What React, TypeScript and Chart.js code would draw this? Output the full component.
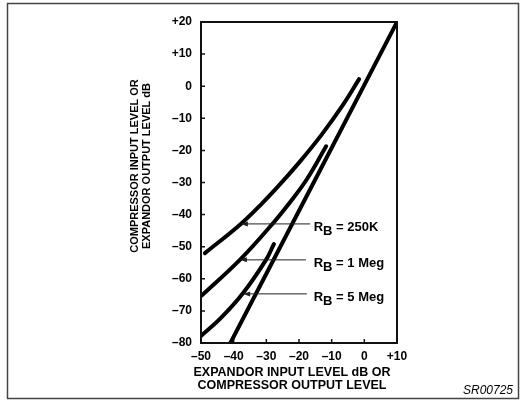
import { useEffect, useRef } from 'react';
import { Chart, registerables } from 'chart.js';

Chart.register(...registerables);

// ---- Data (dB) ----
const unityX = [-41, 10];
const unityY = [-80, 20];

const rb250kX = [-48.8, -37.8, -31.3, -25.5, -19.4, -13.0, -6.6, -1.6];
const rb250kY = [-52.0, -42.9, -36.5, -30.2, -23.1, -15.0, -5.9, 2.2];

const rb1MegX = [-50, -38.1, -28.9, -22.8, -17.6, -11.7];
const rb1MegY = [-65.4, -54.1, -43.8, -36.2, -29.0, -18.7];

const rb5MegX = [-50, -44.2, -37.1, -30.1, -27.7];
const rb5MegY = [-77.8, -72.5, -64.4, -54.1, -49.2];

// Callouts: label text, arrow tip (on curve) and tail, in data units
const calloutValues = ['250K', '1 Meg', '5 Meg'];
const calloutY = [-42.9, -54.1, -64.7];
const calloutTipX = [-37.8, -38.1, -37.1];
const calloutTailX = [-16.6, -17.9, -17.6];
const calloutLabelX = [-15.5, -15.5, -15.5];

const xMin = -50, xMax = 10, xStep = 10;
const yMin = -80, yMax = 20, yStep = 10;

const xTitleLines = ['EXPANDOR INPUT LEVEL dB OR', 'COMPRESSOR OUTPUT LEVEL'];
const yTitleLines = ['COMPRESSOR INPUT LEVEL OR', 'EXPANDOR OUTPUT LEVEL dB'];
const figureCode = 'SR00725';

const fmt = (v: number) => (v > 0 ? '+' + v : v < 0 ? '\u2013' + Math.abs(v) : '0');
const pts = (xs: number[], ys: number[]) => xs.map((x, i) => ({ x, y: ys[i] }));

const FONT = '"Liberation Sans", Arial, Helvetica, sans-serif';

const figurePlugin = {
  id: 'figure',
  afterDraw(chart: any) {
    const { ctx, chartArea: a, scales } = chart;
    const xs = scales.x;
    const ys = scales.y;
    ctx.save();
    ctx.strokeStyle = '#111';
    ctx.fillStyle = '#111';

    // plot frame
    ctx.lineWidth = 2;
    ctx.strokeRect(a.left, a.top, a.right - a.left, a.bottom - a.top);

    // inward tick marks
    ctx.lineWidth = 1.5;
    ctx.beginPath();
    xs.ticks.forEach((_t: any, i: number) => {
      const px = xs.getPixelForTick(i);
      ctx.moveTo(px, a.bottom);
      ctx.lineTo(px, a.bottom - 4);
    });
    ys.ticks.forEach((_t: any, i: number) => {
      const py = ys.getPixelForTick(i);
      ctx.moveTo(a.left, py);
      ctx.lineTo(a.left + 4, py);
    });
    ctx.stroke();

    // callout arrows and labels
    calloutValues.forEach((val, i) => {
      const py = ys.getPixelForValue(calloutY[i]);
      const tip = xs.getPixelForValue(calloutTipX[i]);
      const tail = xs.getPixelForValue(calloutTailX[i]);
      ctx.strokeStyle = '#222';
      ctx.fillStyle = '#222';
      ctx.lineWidth = 1;
      ctx.beginPath();
      ctx.moveTo(tip + 4, py);
      ctx.lineTo(tail, py);
      ctx.stroke();
      ctx.beginPath();
      ctx.moveTo(tip, py);
      ctx.lineTo(tip + 7, py - 2.5);
      ctx.lineTo(tip + 7, py + 2.5);
      ctx.closePath();
      ctx.fill();

      const lx = xs.getPixelForValue(calloutLabelX[i]);
      const ly = py + 4;
      ctx.fillStyle = '#000';
      ctx.font = `bold 13px ${FONT}`;
      ctx.textBaseline = 'middle';
      ctx.textAlign = 'left';
      ctx.fillText('R', lx, ly);
      const wR = ctx.measureText('R').width;
      ctx.fillText('B', lx + wR, ly + 4);
      const wB = ctx.measureText('B').width;
      ctx.fillText(' = ' + val, lx + wR + wB, ly);
    });

    // axis titles
    ctx.fillStyle = '#000';
    ctx.textAlign = 'center';
    ctx.textBaseline = 'middle';
    ctx.font = `bold 12.5px ${FONT}`;
    xTitleLines.forEach((t, i) => {
      ctx.fillText(t, a.left + 91, a.bottom + 30 + i * 12.5);
    });
    ctx.font = `bold 11px ${FONT}`;
    ctx.save();
    ctx.translate(a.left - 66, a.top + 144);
    ctx.rotate(-Math.PI / 2);
    yTitleLines.forEach((t, i) => {
      ctx.fillText(t, 0, i * 12);
    });
    ctx.restore();

    // figure code
    ctx.font = `italic 12px ${FONT}`;
    ctx.textAlign = 'right';
    ctx.fillText(figureCode, 513, 391);

    // outer frame
    ctx.strokeStyle = '#444';
    ctx.lineWidth = 1.5;
    ctx.strokeRect(7.5, 3.5, 511, 395);
    ctx.restore();
  },
};

export default function App() {
  const ref = useRef<HTMLCanvasElement | null>(null);

  useEffect(() => {
    if (!ref.current) return;
    const lineStyle = {
      borderColor: '#000',
      borderWidth: 4,
      pointRadius: 0,
      fill: false,
      tension: 0.4,
      borderCapStyle: 'round' as const,
      borderJoinStyle: 'round' as const,
    };
    const chart = new Chart(ref.current, {
      type: 'line',
      data: {
        datasets: [
          { label: 'Unity', data: pts(unityX, unityY), ...lineStyle },
          { label: 'RB = 250K', data: pts(rb250kX, rb250kY), ...lineStyle },
          { label: 'RB = 1 Meg', data: pts(rb1MegX, rb1MegY), ...lineStyle },
          { label: 'RB = 5 Meg', data: pts(rb5MegX, rb5MegY), ...lineStyle },
        ],
      },
      options: {
        responsive: false,
        animation: false,
        devicePixelRatio: 1,
        layout: { padding: { left: 0, top: 22, right: 125, bottom: 0 } },
        plugins: { legend: { display: false }, tooltip: { enabled: false } },
        scales: {
          x: {
            type: 'linear',
            min: xMin,
            max: xMax,
            grid: { display: false, drawTicks: false },
            border: { display: false },
            ticks: {
              stepSize: xStep,
              padding: 6,
              color: '#000',
              font: { family: FONT, size: 12, weight: 'bold' },
              callback: (v: any) => fmt(Number(v)),
              maxRotation: 0,
            },
            afterFit: (s: any) => {
              s.height = 61;
            },
          },
          y: {
            type: 'linear',
            min: yMin,
            max: yMax,
            grid: { display: false, drawTicks: false },
            border: { display: false },
            ticks: {
              stepSize: yStep,
              padding: 9,
              color: '#000',
              font: { family: FONT, size: 12, weight: 'bold' },
              callback: (v: any) => fmt(Number(v)),
            },
            afterFit: (s: any) => {
              s.width = 201;
            },
          },
        },
      },
      plugins: [figurePlugin],
    });
    return () => chart.destroy();
  }, []);

  return (
    <div style={{ position: 'absolute', left: 0, top: 0, width: 522, height: 404, background: '#fff' }}>
      <canvas ref={ref} width={522} height={404} style={{ display: 'block' }} />
    </div>
  );
}
